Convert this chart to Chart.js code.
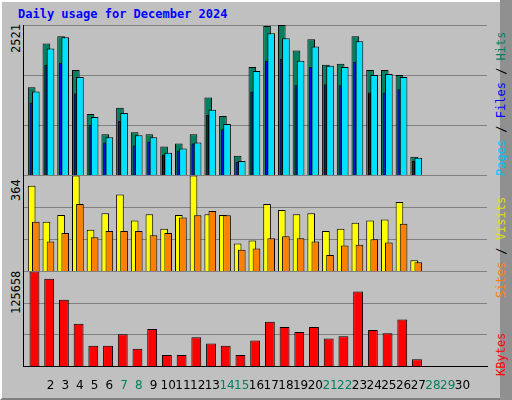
<!DOCTYPE html>
<html>
<head>
<meta charset="utf-8">
<script src="https://cdn.jsdelivr.net/npm/chart.js@4"></script>
<style>
  body { margin: 0; }
  #frame { position: absolute; left: 0; top: 0; width: 508px; height: 396px; background: #c0c0c0;
           border-top: 2px solid #fff; border-left: 2px solid #fff; border-right: 2px solid #808080; border-bottom: 2px solid #808080; }
  #strip { position: absolute; left: 500px; top: 0; width: 12px; height: 400px; background: #909090; }
  #title { position: absolute; left: 18px; top: 7px; font: bold 12px "DejaVu Sans Mono", monospace; color: #0000ff; }
  .rot { position: absolute; transform-origin: left top; transform: rotate(-90deg); white-space: nowrap;
         font: 12px "DejaVu Sans Mono", monospace; }
  #box { position: absolute; left: 19px; top: 25px; width: 472px; height: 372px; }
</style>
</head>
<body>
<div id="frame"></div>
<div id="strip"></div>
<div id="title">Daily usage for December 2024</div>
<div class="rot" style="left:9px;top:53px;color:#000">2521</div>
<div class="rot" style="left:9px;top:201px;color:#000">364</div>
<div class="rot" style="left:9px;top:314px;color:#000">125658</div>
<div class="rot" style="left:494px;top:176px"><span style="color:#00c0ff">Pages</span> / <span style="color:#0000ff">Files</span> / <span style="color:#008060">Hits</span></div>
<div class="rot" style="left:494px;top:298px"><span style="color:#ff8000">Sites</span> / <span style="color:#e0e000">Visits</span></div>
<div class="rot" style="left:494px;top:376px;color:#ff0000">KBytes</div>
<div id="box"><canvas id="usageChart"></canvas></div>
<script>
var days = [1,2,3,4,5,6,7,8,9,10,11,12,13,14,15,16,17,18,19,20,21,22,23,24,25,26,27,28,29,30,31];
var weekend = [1,7,8,14,15,21,22,28,29];
var hits = [1477,2213,2333,1768,1032,690,1135,724,690,485,536,690,1306,998,331,1819,2504,2521,2093,2281,1854,1871,2333,1768,1768,1683,314];
var files = [1409,2127,2316,1648,981,639,1049,673,639,382,451,553,1101,861,245,1751,2384,2299,1922,2162,1837,1819,2247,1683,1700,1648,297];
var pages = [1221,1854,1888,1375,844,553,913,502,570,348,416,536,1015,776,228,1409,1922,1956,1511,1819,1528,1511,1905,1392,1392,1443,245];
var visits = [325,189,214,364,158,221,292,193,217,162,214,364,217,214,106,118,256,233,217,221,154,162,185,193,197,264,43];
var sites = [189,114,146,256,130,154,154,154,138,146,205,213,229,213,83,87,126,134,126,114,63,99,102,122,110,181,35];
var kbytes = [125658,116000,88400,56600,27600,27600,42800,23500,49700,15200,15200,38700,30400,27600,15200,34500,59400,52500,45600,52500,37300,40000,99400,48300,44200,62100,9700];
var maxHits = 2521, maxVisits = 364, maxKbytes = 125658;

function pts(arr) {
  return arr.map(function(v, i) { return {x: days[i], y: v}; });
}
function shifted(shift) {
  return { type: 'linear', display: false, offset: false, min: 0.13 + shift, max: 31.67 + shift };
}
function yAxis(max, weight) {
  return {
    stack: 'panels', stackWeight: weight, min: 0, max: max,
    border: { color: '#000', width: 1 },
    grid: { color: '#808080', drawTicks: false },
    ticks: { display: false, stepSize: max / 3 }
  };
}
function bar(label, data, color, xAxis, yAxisId, width) {
  return {
    label: label, data: pts(data), backgroundColor: color, borderColor: '#000', borderWidth: 1,
    xAxisID: xAxis, yAxisID: yAxisId, grouped: false, barPercentage: 1, categoryPercentage: width
  };
}

new Chart(document.getElementById('usageChart').getContext('2d'), {
  type: 'bar',
  data: {
    datasets: [
      bar('Pages', pages, '#0000ff', 'xPages', 'yTop', 0.2),
      bar('Files', files, '#00e0ff', 'x', 'yTop', 0.52),
      bar('Hits', hits, '#008060', 'xHits', 'yTop', 0.52),
      bar('Sites', sites, '#ff8000', 'x', 'yMid', 0.52),
      bar('Visits', visits, '#ffff00', 'xHits', 'yMid', 0.52),
      bar('KBytes', kbytes, '#ff0000', 'xKb', 'yBot', 0.67)
    ]
  },
  options: {
    animation: false, responsive: true, maintainAspectRatio: false,
    layout: { padding: 0 },
    plugins: { legend: { display: false }, tooltip: { enabled: false } },
    scales: {
      x: {
        type: 'linear', offset: false, min: 0.13, max: 31.67,
        border: { color: '#000' },
        grid: { display: false },
        ticks: {
          stepSize: 1, autoSkip: false, maxRotation: 0, padding: 4,
          font: { family: 'DejaVu Sans', size: 12 },
          color: function(ctx) { return weekend.indexOf(ctx.tick.value) >= 0 ? '#008060' : '#000'; },
          callback: function(v) { return days.indexOf(v) >= 0 ? String(v) : ''; }
        }
      },
      xHits: shifted(0.28),
      xPages: shifted(0.32),
      xKb: shifted(0.09),
      yBot: yAxis(maxKbytes, 96),
      yMid: yAxis(maxVisits, 97),
      yTop: yAxis(maxHits, 152)
    }
  }
});
</script>
</body>
</html>
